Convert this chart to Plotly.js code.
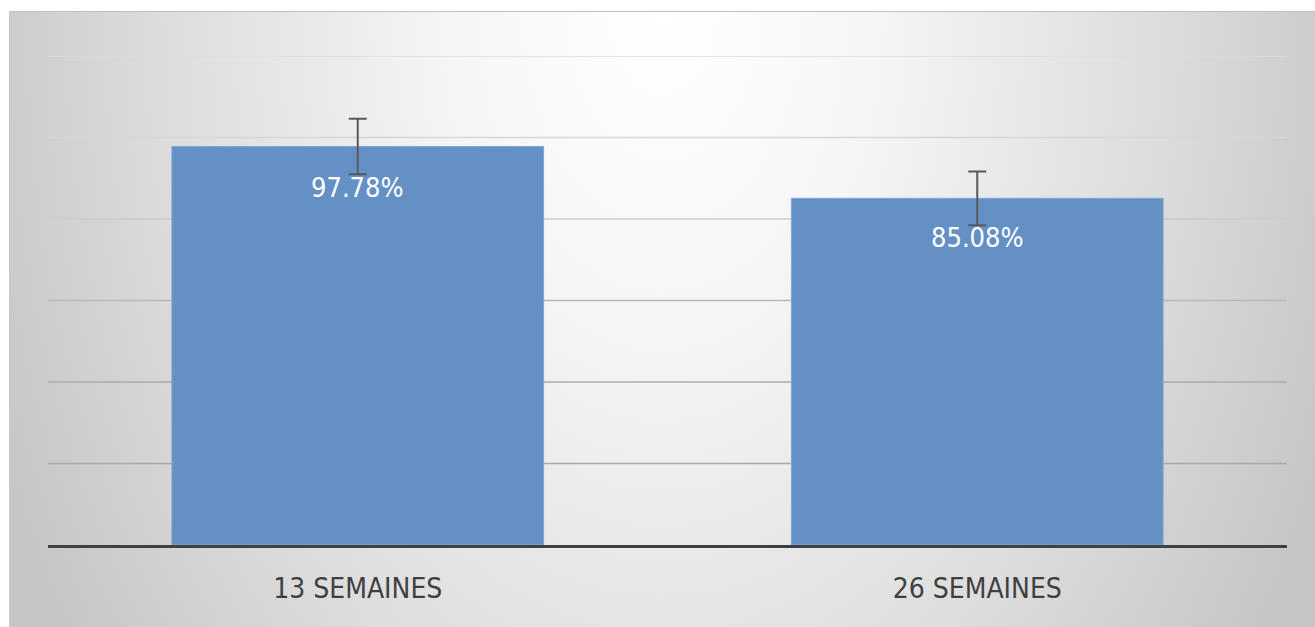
<!DOCTYPE html>
<html>
<head>
<meta charset="utf-8">
<script src="https://cdn.plot.ly/plotly-3.0.1.min.js"></script>
<style>
  html, body { margin: 0; padding: 0; background: #ffffff; }
  #wrap { position: relative; width: 1315px; height: 627px; overflow: hidden; }
  #bg { position: absolute; left: 9px; top: 11px; width: 1306px; height: 616px;
        background: radial-gradient(ellipse 720px 1100px at 50% 0%, #ffffff 0%, #f5f5f5 30%, #dcdcdc 70%, #c6c6c6 100%);
        border-top: 1px solid #c0c0c0; border-left: 1px solid #c8c8c8; box-sizing: border-box; }
  #chart { position: absolute; left: 0; top: 0; width: 1315px; height: 627px; }
</style>
</head>
<body>
<div id="wrap"><div id="bg"></div><div id="chart"></div></div>
<script>
const categories = ["13 SEMAINES", "26 SEMAINES"];
const values = [97.78, 85.08];
const errors = [6.8, 6.6];
const valueLabels = ["97.78%", "85.08%"];
const yTicks = [20, 40, 60, 80, 100, 120];

const fontFam = "DejaVu Sans Condensed, Liberation Sans Narrow, sans-serif";
const gridColors = ["#a9a9a9", "#adadad", "#b8b8b8", "#cbcbcb", "#d6d6d6", "#dddddd"];

const trace = {
  type: "bar",
  x: categories,
  y: values,
  marker: { color: "#6490c6", line: { color: "#7ea5d6", width: 1 } },
  error_y: { type: "data", array: errors, visible: true, color: "#595959", thickness: 2, width: 9 },
  hoverinfo: "none"
};

const annotations = categories.map((c, i) => ({
  x: c, y: values[i], xref: "x", yref: "y",
  text: valueLabels[i], showarrow: false,
  yanchor: "middle", yshift: i === 0 ? -41 : -39,
  font: { family: fontFam, size: 27, color: "#ffffff" }
}));

const shapes = yTicks.map((v, i) => ({
  type: "line", xref: "paper", yref: "y", x0: 0, x1: 1, y0: v, y1: v,
  layer: "below", line: { color: gridColors[i], width: 1.5 }
}));

const layout = {
  width: 1315, height: 627,
  margin: { l: 48, r: 28, t: 56, b: 82 },
  paper_bgcolor: "rgba(0,0,0,0)",
  plot_bgcolor: "rgba(0,0,0,0)",
  bargap: 0.4,
  showlegend: false,
  xaxis: {
    showline: true, linecolor: "#404040", linewidth: 3,
    ticks: "", showgrid: false, ticklabelstandoff: 16,
    tickfont: { family: fontFam, size: 28, color: "#404040" }
  },
  yaxis: {
    range: [0, 120], showticklabels: false,
    showgrid: false, zeroline: false, showline: false, ticks: ""
  },
  shapes: shapes,
  annotations: annotations
};

Plotly.newPlot("chart", [trace], layout, { displayModeBar: false, staticPlot: true });
</script>
</body>
</html>
